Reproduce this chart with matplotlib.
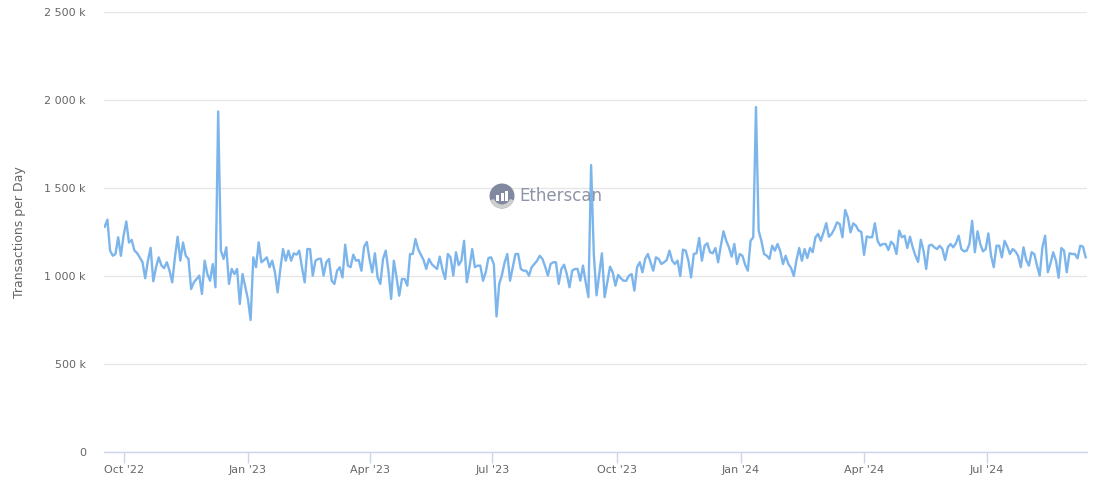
import numpy as np
import pandas as pd
import matplotlib
matplotlib.use("Agg")
import matplotlib.pyplot as plt
import matplotlib.dates as mdates
from matplotlib.ticker import FuncFormatter, MultipleLocator
from matplotlib.patches import Circle, Rectangle, Wedge
from matplotlib.transforms import IdentityTransform

# ---------------- data (transactions per day, thousands, one value every 2 days) -------------
start_date = "2022-09-17"
step = "2D"

tx_sep22_dec22 = [1280, 1320, 1144, 1115, 1125, 1220, 1115, 1230, 1310, 1190, 1205, 1145, 1130,
                  1105, 1078, 987, 1087, 1160, 970, 1050, 1106, 1060, 1045, 1078, 1030, 964, 1106,
                  1223, 1087, 1190, 1115, 1097, 926, 964, 983, 1002, 898, 1087]
tx_dec22_feb23 = [1011, 973, 1068, 936, 1935, 1144, 1097, 1163, 955, 1040, 1011, 1040, 841, 1011,
                  940, 869, 750, 1106, 1050, 1191, 1078, 1091, 1106, 1050, 1087, 1021, 907, 1040,
                  1153, 1087, 1144, 1087, 1129, 1121, 1144, 1050, 964, 1153]
tx_feb23_may23 = [1153, 1002, 1087, 1097, 1098, 1002, 1078, 1097, 973, 955, 1030, 1050, 992, 1178,
                  1059, 1050, 1121, 1087, 1091, 1030, 1167, 1193, 1097, 1021, 1129, 992, 955, 1097,
                  1144, 1030, 870, 1087, 992, 888, 983, 983, 945, 1125, 1125]
tx_may23_jul23 = [1210, 1153, 1121, 1091, 1040, 1097, 1068, 1053, 1040, 1110, 1036, 983, 1125, 1106,
                  1002, 1135, 1062, 1087, 1200, 964, 1050, 1153, 1050, 1059, 1059, 973, 1021, 1102,
                  1106, 1068, 770, 955, 1006, 1078, 1125, 973, 1050, 1125, 1125]
tx_jul23_oct23 = [1040, 1030, 1030, 1002, 1050, 1068, 1087, 1115, 1097, 1053, 1002, 1068, 1078, 1078,
                  955, 1040, 1064, 1011, 936, 1030, 1040, 1040, 973, 1059, 964, 880, 1630, 1125, 890,
                  1011, 1129, 880, 964, 1053, 1021, 945, 1006, 987, 973]
tx_oct23_dec23 = [973, 1002, 1011, 917, 1050, 1078, 1021, 1097, 1125, 1078, 1030, 1106, 1097, 1068,
                  1078, 1091, 1144, 1087, 1068, 1087, 1000, 1150, 1144, 1087, 992, 1125, 1129, 1216,
                  1087, 1172, 1186, 1135, 1129, 1159, 1078, 1172, 1254, 1200, 1163]
tx_dec23_mar24 = [1110, 1182, 1068, 1125, 1115, 1064, 1030, 1200, 1220, 1960, 1258, 1200, 1125, 1115,
                  1097, 1172, 1144, 1182, 1140, 1068, 1115, 1068, 1045, 1000, 1090, 1159, 1087, 1153,
                  1102, 1159, 1135, 1220, 1239, 1200, 1248, 1300, 1223, 1239, 1267]
tx_mar24_may24 = [1305, 1295, 1220, 1375, 1333, 1248, 1299, 1286, 1258, 1250, 1120, 1225, 1220, 1220,
                  1300, 1200, 1172, 1182, 1182, 1148, 1195, 1178, 1125, 1258, 1220, 1229, 1159, 1223,
                  1163, 1115, 1080, 1206, 1144, 1040, 1172, 1178, 1163, 1153, 1172]
tx_may24_aug24 = [1153, 1091, 1163, 1182, 1163, 1186, 1229, 1153, 1140, 1144, 1182, 1314, 1135, 1254,
                  1182, 1140, 1153, 1242, 1115, 1050, 1172, 1172, 1106, 1200, 1167, 1125, 1153, 1140,
                  1115, 1050, 1163, 1091, 1059, 1135, 1125, 1059, 1002, 1163]
tx_aug24_sep24 = [1229, 1021, 1072, 1135, 1087, 990, 1159, 1144, 1021, 1129, 1125, 1125, 1100, 1172,
                  1167, 1106]

y_ticks = [0, 500, 1000, 1500, 2000, 2500]
y_title = "Transactions per Day"
watermark = "Etherscan"

values_k = np.array(tx_sep22_dec22 + tx_dec22_feb23 + tx_feb23_may23 + tx_may23_jul23 +
                    tx_jul23_oct23 + tx_oct23_dec23 + tx_dec23_mar24 + tx_mar24_may24 +
                    tx_may24_aug24 + tx_aug24_sep24, dtype=float)
dates = pd.date_range(start_date, periods=len(values_k), freq=step)
values = values_k * 1000

# ---------------- figure ----------------
W, H = 1107, 488
fig = plt.figure(figsize=(W / 100, H / 100), dpi=100)
left_px, right_px, top_px, bottom_px = 104, 1087, 12, 452
ax = fig.add_axes([left_px / W, 1 - bottom_px / H, (right_px - left_px) / W, (bottom_px - top_px) / H])

ax.plot(dates, values, color="#7cb5ec", linewidth=1.7, zorder=3, solid_joinstyle="round")

ax.set_ylim(0, y_ticks[-1] * 1000)
ax.set_xlim(dates[0] - pd.Timedelta(days=0.5), dates[-1] + pd.Timedelta(days=1))
ax.set_yticks([t * 1000 for t in y_ticks])


def fmt_y(v, pos):
    if v == 0:
        return "0"
    return f"{int(round(v / 1000)):,} k".replace(",", " ")


ax.yaxis.set_major_formatter(FuncFormatter(fmt_y))
ax.xaxis.set_major_locator(mdates.MonthLocator(bymonth=[1, 4, 7, 10]))
ax.xaxis.set_major_formatter(mdates.DateFormatter("%b '%y"))

ax.grid(axis="y", color="#e6e6e6", linewidth=1, zorder=0)
ax.set_axisbelow(True)
for s in ["top", "right", "left"]:
    ax.spines[s].set_visible(False)
ax.spines["bottom"].set_color("#ccd6eb")
ax.spines["bottom"].set_linewidth(1)

ax.tick_params(axis="y", length=0, pad=13, labelsize=8, labelcolor="#666666")
ax.tick_params(axis="x", length=8, width=1, color="#ccd6eb", pad=1.5, labelsize=8,
               labelcolor="#666666")

ax.set_ylabel(y_title, fontsize=9, color="#666666")
ax.yaxis.set_label_coords(-78 / (right_px - left_px), 0.5)

# ---------------- watermark ----------------
tr = IdentityTransform()
cx, cy, r = 502, H - 196, 12.5
fig.add_artist(Circle((cx, cy), r, transform=tr, facecolor="#8189a0", edgecolor="none", zorder=1))
fig.add_artist(Wedge((cx, cy), r, 200, 340, width=4, transform=tr, facecolor="#cfcfcf",
                     edgecolor="none", zorder=1))
for bx, bh in [(-6, 6), (-1.5, 8), (3, 10)]:
    fig.add_artist(Rectangle((cx + bx, cy - 5), 3, bh, transform=tr, facecolor="white",
                             edgecolor="none", zorder=1))
fig.text(519 / W, 1 - 196 / H, watermark, fontsize=12, color="#8e94a7",
         ha="left", va="center", zorder=1, family="DejaVu Sans")

fig.savefig("out.png", dpi=100)
